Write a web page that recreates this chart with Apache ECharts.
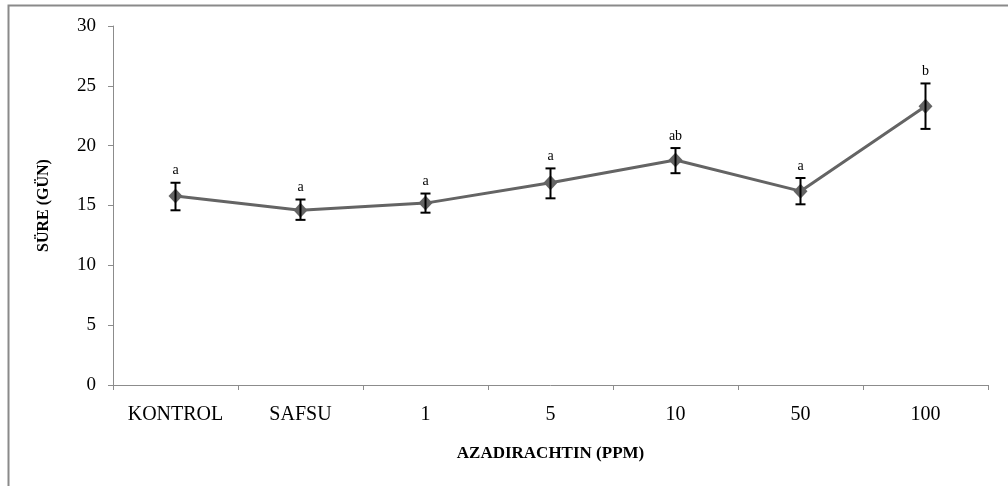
<!DOCTYPE html>
<html>
<head>
<meta charset="utf-8">
<script src="https://cdn.jsdelivr.net/npm/echarts@6/dist/echarts.min.js"></script>
<style>
html,body{margin:0;padding:0;background:#fff;}
#chart{width:1008px;height:486px;}
</style>
</head>
<body>
<div id="chart"></div>
<script>
var categories = ['KONTROL', 'SAFSU', '1', '5', '10', '50', '100'];
var means = [15.8, 14.6, 15.2, 16.9, 18.8, 16.2, 23.3];
var errLow = [14.6, 13.8, 14.4, 15.6, 17.7, 15.1, 21.4];
var errHigh = [16.9, 15.5, 16.0, 18.1, 19.8, 17.3, 25.2];
var letters = ['a', 'a', 'a', 'a', 'ab', 'a', 'b'];

var serif = '"Liberation Serif", "DejaVu Serif", serif';

var errData = [];
for (var i = 0; i < categories.length; i++) {
	errData.push([i, errLow[i], errHigh[i], letters[i]]);
}

var myChart = echarts.init(document.getElementById('chart'));
var option = {
	animation: false,
	grid: { left: 113, right: 20, top: 26, bottom: 101 },
	graphic: [{
		type: 'rect',
		shape: { x: 8.5, y: 5.5, width: 1100, height: 600 },
		style: { fill: 'none', stroke: '#8a8a8a', lineWidth: 2 },
		silent: true
	}],
	xAxis: {
		type: 'category',
		data: categories,
		boundaryGap: true,
		axisLine: { lineStyle: { color: '#8c8c8c', width: 1 } },
		axisTick: { show: true, length: 5, lineStyle: { color: '#8c8c8c' } },
		axisLabel: { fontFamily: serif, fontSize: 20, color: '#000', margin: 20 },
		name: 'AZADIRACHTIN (PPM)',
		nameLocation: 'middle',
		nameGap: 60,
		nameTextStyle: { fontFamily: serif, fontSize: 17, fontWeight: 'bold', color: '#000' },
		splitLine: { show: false }
	},
	yAxis: {
		type: 'value',
		min: 0,
		max: 30,
		interval: 5,
		axisLine: { show: true, lineStyle: { color: '#8c8c8c', width: 1 } },
		axisTick: { show: true, length: 5, lineStyle: { color: '#8c8c8c' } },
		axisLabel: { fontFamily: serif, fontSize: 19, color: '#000', margin: 17 },
		splitLine: { show: false },
		name: 'SÜRE (GÜN)',
		nameLocation: 'middle',
		nameGap: 61,
		nameRotate: 90,
		nameTextStyle: { fontFamily: serif, fontSize: 16, fontWeight: 'bold', color: '#000' }
	},
	series: [{
		type: 'line',
		data: means,
		symbol: 'diamond',
		symbolSize: [14, 15],
		lineStyle: { color: '#646464', width: 3 },
		itemStyle: { color: '#646464' },
		z: 2
	}, {
		type: 'custom',
		data: errData,
		z: 3,
		renderItem: function(params, api){
			var x = api.value(0);
			var lo = api.coord([x, api.value(1)]);
			var hi = api.coord([x, api.value(2)]);
			var cap = 5;
			var st = { stroke: '#000', lineWidth: 2, fill: 'none' };
			return {
				type: 'group',
				children: [
					{ type: 'line', shape: { x1: hi[0], y1: hi[1], x2: lo[0], y2: lo[1] }, style: st },
					{ type: 'line', shape: { x1: hi[0] - cap, y1: hi[1], x2: hi[0] + cap, y2: hi[1] }, style: st },
					{ type: 'line', shape: { x1: lo[0] - cap, y1: lo[1], x2: lo[0] + cap, y2: lo[1] }, style: st },
					{ type: 'text', style: {
						text: api.value(3), x: hi[0], y: hi[1] - 5,
						align: 'center', verticalAlign: 'bottom',
						fontFamily: serif, fontSize: 14, fill: '#000'
					} }
				]
			};
		}
	}]
};
myChart.setOption(option);
</script>
</body>
</html>
